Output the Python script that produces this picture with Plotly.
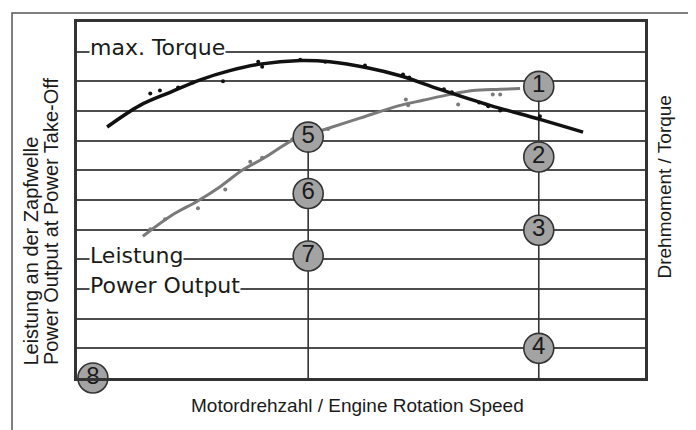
import plotly.graph_objects as go

# ---- data (abstract units: x = engine speed 0-100, y = grid units 0-12) ----
torque_x = [5.3, 11.1, 16.4, 21.7, 26.9, 32.2, 39.3, 44.5, 51.1, 56.9, 63.9, 72.7, 81.5, 89.1]
torque_y = [8.46, 9.19, 9.63, 10.05, 10.36, 10.58, 10.70, 10.66, 10.46, 10.19, 9.73, 9.19, 8.72, 8.29]

power_x = [11.6, 16.9, 21.1, 25.2, 29.2, 32.7, 38.0, 40.7, 43.3, 49.8, 56.9, 60.9, 65.7, 69.7, 74.5, 78.0]
power_y = [4.78, 5.51, 5.95, 6.45, 7.02, 7.39, 8.02, 8.19, 8.36, 8.76, 9.19, 9.36, 9.56, 9.69, 9.73, 9.76]

torque_pts_x = [12.9, 14.6, 17.8, 20.4, 25.7, 31.9, 32.6, 39.3, 43.7, 50.7, 57.4, 58.5, 64.6, 66.0, 70.8, 72.4, 74.5, 81.5]
torque_pts_y = [9.59, 9.69, 9.79, 9.96, 10.0, 10.66, 10.49, 10.73, 10.66, 10.53, 10.23, 10.13, 9.73, 9.63, 9.29, 9.16, 9.02, 8.82]

power_pts_x = [12.9, 15.5, 21.3, 26.1, 30.5, 32.6, 37.9, 44.2, 57.9, 58.3, 67.1, 73.2, 74.5]
power_pts_y = [5.01, 5.35, 5.72, 6.35, 7.29, 7.42, 8.05, 8.39, 9.39, 9.19, 9.22, 9.56, 9.56]

marker_labels = ["1", "2", "3", "4", "5", "6", "7", "8"]
marker_x = [81.3, 81.3, 81.3, 81.3, 40.7, 40.7, 40.7, 2.8]
marker_y = [9.83, 7.45, 4.98, 1.00, 8.12, 6.22, 4.11, 0.00]

vline_x = [40.7, 81.3]
vline_top = [8.12, 9.83]

grid_levels = list(range(0, 13))

label_texts = ["max. Torque", "Leistung", "Power Output"]
label_levels = [11, 4, 3]

x_title = "Motordrehzahl / Engine Rotation Speed"
y_title_1 = "Leistung an der Zapfwelle"
y_title_2 = "Power Output at Power Take-Off"
y2_title = "Drehmoment / Torque"

FONT = "Liberation Sans, Arial, sans-serif"
LABEL_FONT = "DejaVu Sans, Liberation Sans, sans-serif"

fig = go.Figure()

# vertical reference lines
for vx, vt in zip(vline_x, vline_top):
    fig.add_trace(go.Scatter(x=[vx, vx], y=[vt, 0], mode="lines",
                             line=dict(color="#333333", width=1.6),
                             hoverinfo="skip", showlegend=False, cliponaxis=False))

# power curve
fig.add_trace(go.Scatter(x=power_x, y=power_y, mode="lines",
                         line=dict(color="#7a7a7a", width=3, shape="spline"),
                         showlegend=False))
fig.add_trace(go.Scatter(x=power_pts_x, y=power_pts_y, mode="markers",
                         marker=dict(color="#7a7a7a", size=4),
                         showlegend=False))

# torque curve
fig.add_trace(go.Scatter(x=torque_x, y=torque_y, mode="lines",
                         line=dict(color="#111111", width=3.5, shape="spline"),
                         showlegend=False))
fig.add_trace(go.Scatter(x=torque_pts_x, y=torque_pts_y, mode="markers",
                         marker=dict(color="#111111", size=4),
                         showlegend=False))

# numbered circles
fig.add_trace(go.Scatter(x=marker_x, y=marker_y, mode="markers+text",
                         text=marker_labels, textposition="middle center",
                         textfont=dict(family=FONT, size=24, color="#1a1a1a"),
                         marker=dict(color="#a3a3a3", size=30,
                                     line=dict(color="#333333", width=1.6)),
                         cliponaxis=False, showlegend=False))

annotations = []
for t, lv in zip(label_texts, label_levels):
    annotations.append(dict(text=t, xref="paper", yref="y", x=0.021, y=lv,
                            xanchor="left", yanchor="middle", yshift=4,
                            showarrow=False, bgcolor="white", borderpad=0,
                            font=dict(family=LABEL_FONT, size=22, color="#1a1a1a")))

annotations += [
    dict(text=x_title, xref="paper", yref="paper", x=0.493, y=-0.078,
         xanchor="center", yanchor="middle", showarrow=False,
         font=dict(family=FONT, size=19, color="#1a1a1a")),
    dict(text=y_title_1, xref="paper", yref="paper", x=-0.081, y=0.0306,
         xanchor="center", yanchor="bottom", textangle=-90, showarrow=False,
         font=dict(family=FONT, size=20, color="#1a1a1a")),
    dict(text=y_title_2, xref="paper", yref="paper", x=-0.0458, y=0.0306,
         xanchor="center", yanchor="bottom", textangle=-90, showarrow=False,
         font=dict(family=FONT, size=20, color="#1a1a1a")),
    dict(text=y2_title, xref="paper", yref="paper", x=1.035, y=0.5376,
         xanchor="center", yanchor="middle", textangle=-90, showarrow=False,
         font=dict(family=FONT, size=19, color="#1a1a1a")),
]

# the page body has an 8px margin, so the figure is sized to fit the window
fig.update_layout(
    width=688, height=422,
    margin=dict(l=69, r=51, t=11, b=52),
    paper_bgcolor="white", plot_bgcolor="white",
    annotations=annotations,
    shapes=[dict(type="rect", xref="paper", yref="paper",
                 x0=-0.1144, x1=1.0792, y0=-0.25, y1=1.0251,
                 line=dict(color="#555555", width=1.5), fillcolor="rgba(0,0,0,0)",
                 layer="below")],
)
fig.update_xaxes(range=[0, 100], showgrid=False, zeroline=False,
                 showticklabels=False, ticks="", showline=True, mirror=True,
                 linecolor="#333333", linewidth=3)
fig.update_yaxes(range=[0, 12], tickmode="array", tickvals=grid_levels,
                 showgrid=True, gridcolor="#4d4d4d", gridwidth=1.6,
                 zeroline=False, showticklabels=False, ticks="",
                 showline=True, mirror=True, linecolor="#333333", linewidth=3)

fig.write_html("out.html")
